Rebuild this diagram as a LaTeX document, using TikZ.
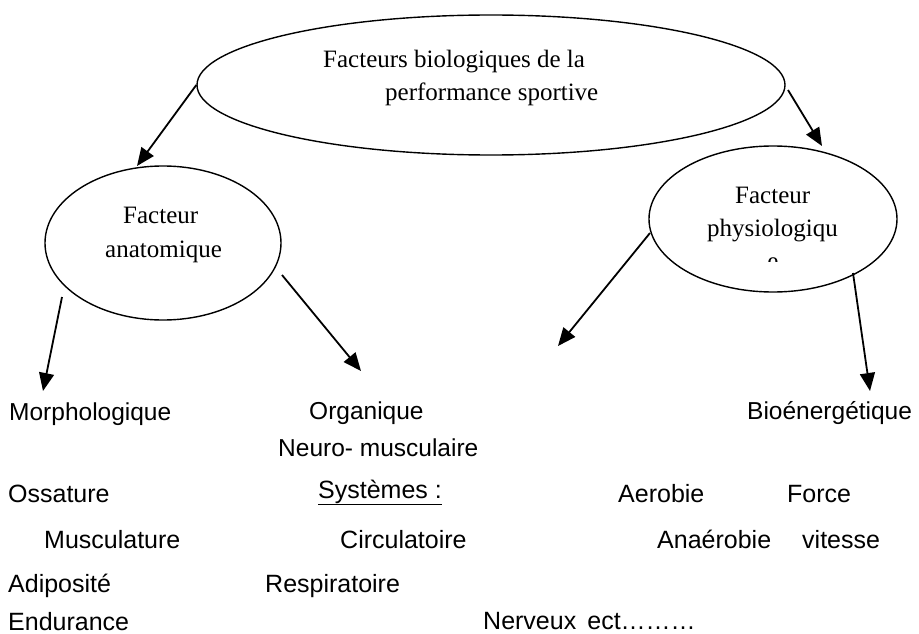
\documentclass[tikz,border=0pt]{standalone}
\usepackage{fontspec}
\setmainfont{Liberation Serif}
\newfontfamily\lsans{Liberation Sans}
\usetikzlibrary{shapes.geometric,arrows.meta}
\tikzset{
  oval/.style={draw, ellipse, line width=1.4pt, inner sep=0pt},
  arr/.style={line width=1.8pt, -{Triangle[length=18pt,width=15pt]}},
  ser/.style={anchor=base west, inner sep=0pt, font=\fontsize{25}{30}\selectfont},
  lab/.style={anchor=base west, inner sep=0pt, font=\lsans\fontsize{24.5}{29}\selectfont},
  low/.style={anchor=base west, inner sep=0pt, font=\lsans\fontsize{25}{30}\selectfont},
}
\begin{document}
\begin{tikzpicture}[x=1pt,y=-1pt]
\useasboundingbox (0,0) rectangle (919,634);
% ellipses
\node[oval, minimum width=588pt, minimum height=140pt] (main) at (491,85) {};
\node[oval, minimum width=236pt, minimum height=154pt] (left) at (163,243) {};
\node[oval, minimum width=248pt, minimum height=146pt] (right) at (773,219) {};
% ellipse texts
\node[ser] (t1) at (323,68) {Facteurs biologiques de la};
\node[ser] (t2) at (385,100) {performance sportive};
\node[ser] (t3) at (123,223) {Facteur};
\node[ser] (t4) at (105,257) {anatomique};
\node[ser] (t5) at (735,203) {Facteur};
\node[ser] (t6) at (707,236) {physiologiqu};
\begin{scope}
  \clip (755,256) rectangle (795,261);
  \node[ser, anchor=base] (t7) at (773,269) {e};
\end{scope}
% labels
\node[lab] (morph) at (9,420) {Morphologique};
\node[lab] (org) at (309,419) {Organique};
\node[lab] (neuro) at (278,456) {Neuro- musculaire};
\node[lab] (bio) at (747,419) {Bioénergétique};
% lower rows
\node[low] (oss) at (8,502) {Ossature};
\node[low] (sys) at (318,498) {\underline{Systèmes :}};
\node[low] (aer) at (618,502) {Aerobie};
\node[low] (force) at (787,502) {Force};
\node[low] (musc) at (44,548) {Musculature};
\node[low] (circ) at (340,548) {Circulatoire};
\node[low] (ana) at (657,548) {Anaérobie};
\node[low] (vit) at (802,548) {vitesse};
\node[low] (adip) at (8,592) {Adiposité};
\node[low] (resp) at (265,592) {Respiratoire};
\node[low] (endu) at (8,630) {Endurance};
\node[low] (nerv) at (483,629) {Nerveux\, ect\ldots\ldots\ldots};
% arrow end points
\coordinate (m1) at (137,166);
\coordinate (m2s) at (788,90);
\coordinate (m2) at (822,146);
\coordinate (l1s) at (62,297);
\coordinate (l1) at (43,391);
\coordinate (l2s) at (282,275);
\coordinate (l2) at (361,371);
\coordinate (r1s) at (650,233);
\coordinate (r1) at (558,346);
\coordinate (r2s) at (853,273);
\coordinate (r2) at (870,391);
% connectors
\draw[arr] (main.west) -- (m1);
\draw[arr] (m2s) -- (m2);
\draw[arr] (l1s) -- (l1);
\draw[arr] (l2s) -- (l2);
\draw[arr] (r1s) -- (r1);
\draw[arr] (r2s) -- (r2);
\end{tikzpicture}
\end{document}
